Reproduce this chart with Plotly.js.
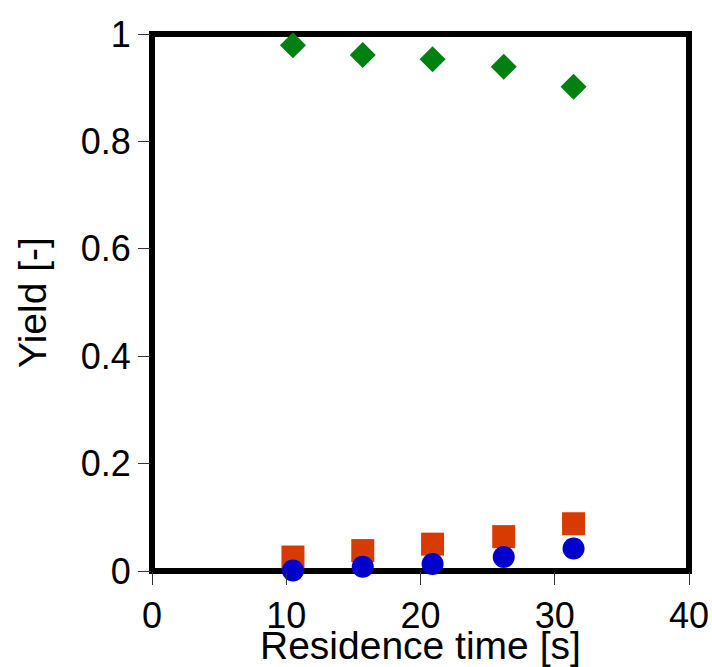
<!DOCTYPE html>
<html>
<head>
<meta charset="utf-8">
<script src="https://cdn.plot.ly/plotly-3.0.1.min.js"></script>
<style>html,body{margin:0;padding:0;background:#fff;}#chart{width:712px;height:667px;}</style>
</head>
<body>
<div id="chart"></div>
<script>
const residenceTime = [10.5, 15.7, 20.9, 26.2, 31.4];
const yieldGreen = [0.979, 0.961, 0.953, 0.939, 0.902];
const yieldOrange = [0.026, 0.038, 0.050, 0.064, 0.088];
const yieldBlue = [0.001, 0.008, 0.013, 0.026, 0.042];
const xTicks = [0, 10, 20, 30, 40];
const yTicks = [0, 0.2, 0.4, 0.6, 0.8, 1];
const yTickText = ['0', '0.2', '0.4', '0.6', '0.8', '1'];
const xTitle = 'Residence time [s]';
const yTitle = 'Yield [-]';

const traces = [
  {x: residenceTime, y: yieldOrange, mode: 'markers', type: 'scatter', cliponaxis: false,
   marker: {symbol: 'square', size: 23, color: '#d83b00'}},
  {x: residenceTime, y: yieldBlue, mode: 'markers', type: 'scatter', cliponaxis: false,
   marker: {symbol: 'circle', size: 22, color: '#0000cc'}},
  {x: residenceTime, y: yieldGreen, mode: 'markers', type: 'scatter', cliponaxis: false,
   marker: {symbol: 'diamond', size: 20, color: '#008011'}}
];

const font = {family: 'Liberation Sans, Arial, sans-serif', color: '#000'};
const layout = {
  width: 712, height: 667,
  margin: {l: 152, r: 23, t: 34, b: 96, pad: 0},
  paper_bgcolor: '#fff', plot_bgcolor: '#fff',
  showlegend: false,
  font: Object.assign({size: 36}, font),
  xaxis: {
    range: [0, 40], tickvals: xTicks, ticktext: xTicks.map(String),
    showgrid: false, zeroline: false, showline: false,
    ticks: 'outside', ticklen: 13, tickwidth: 1, tickcolor: '#333',
    tickfont: Object.assign({size: 36}, font)
  },
  yaxis: {
    range: [0, 1], tickvals: yTicks, ticktext: yTickText,
    showgrid: false, zeroline: false, showline: false,
    ticks: 'outside', ticklen: 13, tickwidth: 1, tickcolor: '#333',
    tickfont: Object.assign({size: 36}, font),
    title: {text: yTitle, font: Object.assign({size: 39}, font), standoff: 22}
  },
  annotations: [{
    text: xTitle, xref: 'paper', yref: 'paper', x: 0.5, y: 0,
    xanchor: 'center', yanchor: 'middle', yshift: -74, showarrow: false,
    font: Object.assign({size: 39}, font)
  }],
  shapes: [{type: 'rect', xref: 'paper', yref: 'paper', x0: 0, x1: 1, y0: 0, y1: 1,
            line: {color: '#000', width: 6}, layer: 'below'}]
};

Plotly.newPlot('chart', traces, layout, {displayModeBar: false, staticPlot: true});
</script>
</body>
</html>
